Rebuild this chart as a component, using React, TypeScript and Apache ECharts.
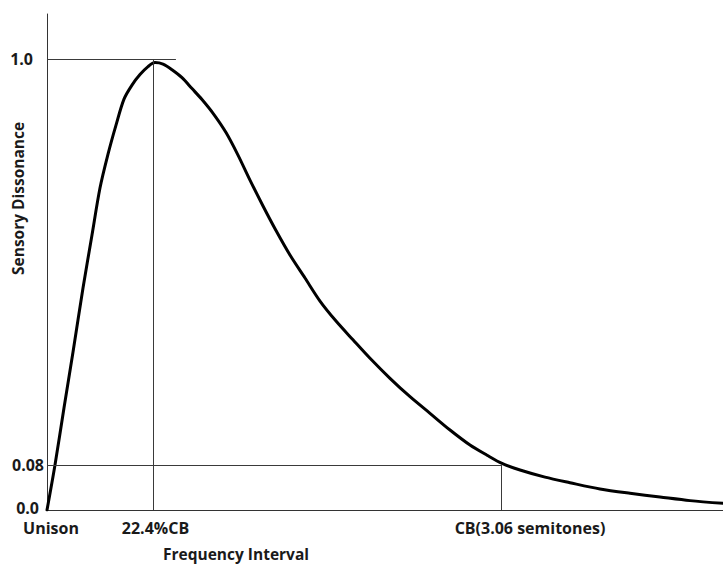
import React, { useEffect, useRef } from "react";
import * as echarts from "echarts";

// Curve: x in critical-bandwidth units (CB = 1), y = normalised sensory dissonance
const curveX = [0, 0.0176, 0.0374, 0.0573, 0.0793, 0.0991, 0.1167, 0.1344, 0.152, 0.1696, 0.1872, 0.2048, 0.2225, 0.2379, 0.2555, 0.2753, 0.2974, 0.3194, 0.3414, 0.3678, 0.3943, 0.4207, 0.4471, 0.4758, 0.5044, 0.5352, 0.5683, 0.6013, 0.6366, 0.674, 0.7115, 0.7555, 0.7996, 0.8436, 0.8877, 0.9317, 0.9692, 1.0022, 1.0419, 1.0969, 1.152, 1.2181, 1.2841, 1.3502, 1.4163, 1.489];
const curveY = [0, 0.0998, 0.2262, 0.3503, 0.4922, 0.6098, 0.714, 0.7893, 0.8537, 0.9113, 0.9424, 0.9656, 0.9834, 0.9922, 0.9889, 0.9765, 0.9589, 0.9346, 0.9102, 0.8769, 0.837, 0.7871, 0.7317, 0.6741, 0.6197, 0.5654, 0.5144, 0.4634, 0.419, 0.3774, 0.3364, 0.292, 0.2512, 0.2144, 0.1774, 0.1441, 0.1215, 0.1033, 0.0887, 0.0729, 0.0605, 0.0466, 0.037, 0.0288, 0.0208, 0.0148];

// Axis tick positions and labels
const xTickValues = [0, 0.2335, 1.0];
const xTickLabels = ["Unison", "22.4%CB", "CB(3.06 semitones)"];
const yTickValues = [0, 0.1, 1.0];
const yTickLabels = ["0.0", "0.08", "1.0"];

// Guide lines: [x1, y1, x2, y2]
const guideLines = [
  [0, 1.0, 0.284, 1.0],
  [0.2335, 0, 0.2335, 1.0],
  [0, 0.1, 1.0, 0.1],
  [1.0, 0, 1.0, 0.1],
];

const xName = "Frequency Interval";
const yName = "Sensory Dissonance";

const FONT = "'Open Sans', 'Noto Sans', sans-serif";
const FS = 16;
const TITLE_FS = 15.5;

function nearestIndex(values: number[], v: number) {
  let best = 0;
  for (let i = 1; i < values.length; i++) {
    if (Math.abs(values[i] - v) < Math.abs(values[best] - v)) best = i;
  }
  return best;
}

export default function App() {
  const ref = useRef<HTMLDivElement>(null);
  useEffect(() => {
    document.body.style.margin = "0";
    if (!ref.current) return;
    const chart = echarts.init(ref.current, undefined, { renderer: "svg" });
    const xKeys = ["u", "p", "cb"];
    const yKeys = ["z", "e", "o"];
    const base = { fontFamily: FONT, fontWeight: "bold", fontSize: FS, color: "#1a1a1a" };
    chart.setOption({
      animation: false,
      backgroundColor: "#ffffff",
      grid: { left: 47, right: 0, top: 14, bottom: 55, containLabel: false },
      xAxis: {
        type: "value",
        min: 0,
        max: 1.489,
        axisLine: { show: true, lineStyle: { color: "#333333", width: 1 } },
        axisTick: { show: false },
        splitLine: { show: false },
        axisLabel: {
          customValues: xTickValues,
          margin: 10,
          ...base,
          formatter: (v: number) => {
            const i = nearestIndex(xTickValues, v);
            return "{" + xKeys[i] + "|" + xTickLabels[i] + "}";
          },
          rich: {
            u: { ...base, padding: [0, 0, 0, 8] },
            p: { ...base, padding: [0, 0, 0, 5] },
            cb: { ...base, padding: [0, 0, 0, 58] },
          },
        },
      },
      yAxis: {
        type: "value",
        min: 0,
        max: 1.1,
        axisLine: { show: true, lineStyle: { color: "#333333", width: 1 } },
        axisTick: { show: false },
        splitLine: { show: false },
        axisLabel: {
          customValues: yTickValues,
          margin: 3,
          ...base,
          formatter: (v: number) => {
            const i = nearestIndex(yTickValues, v);
            return "{" + yKeys[i] + "|" + yTickLabels[i] + "}";
          },
          rich: {
            z: { ...base, padding: [0, 5, 4, 0] },
            e: { ...base, padding: [0, 0, 0, 0] },
            o: { ...base, padding: [0, 11, 0, 0] },
          },
        },
      },
      graphic: [
        {
          type: "text",
          left: 163,
          top: 546,
          style: { text: xName, fontFamily: FONT, fontWeight: "bold", fontSize: TITLE_FS, fill: "#1a1a1a" },
        },
        {
          type: "text",
          x: 10,
          y: 275,
          rotation: Math.PI / 2,
          style: { text: yName, fontFamily: FONT, fontWeight: "bold", fontSize: TITLE_FS, fill: "#1a1a1a" },
        },
      ],
      series: [
        {
          type: "line",
          data: curveX.map((x, i) => [x, curveY[i]]),
          smooth: 0.3,
          symbol: "none",
          lineStyle: { color: "#000000", width: 3, join: "round", cap: "round" },
          z: 3,
          markLine: {
            silent: true,
            symbol: "none",
            label: { show: false },
            lineStyle: { color: "#3a3a3a", width: 1, type: "solid" },
            data: guideLines.map((g) => [
              { coord: [g[0], g[1]] },
              { coord: [g[2], g[3]] },
            ]),
          },
        },
      ],
    });
    return () => chart.dispose();
  }, []);
  return <div ref={ref} style={{ width: 723, height: 565 }} />;
}
